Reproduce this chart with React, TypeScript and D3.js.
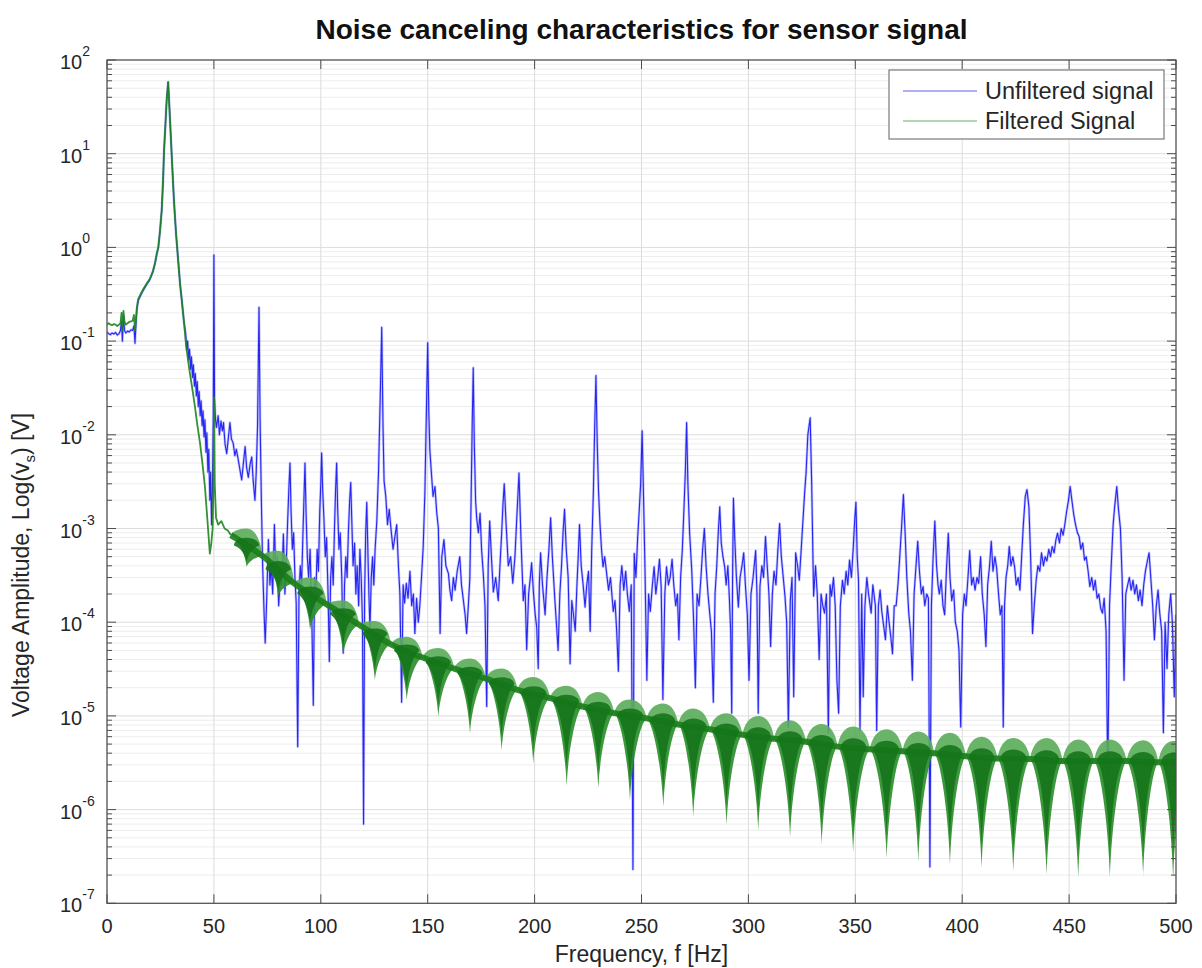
import React from "react";
import * as d3 from "d3";

const titleText = "Noise canceling characteristics for sensor signal";
const xLabelText = "Frequency, f [Hz]";
const legendLabels = ["Unfiltered signal", "Filtered Signal"];
const xTickValues = [0, 50, 100, 150, 200, 250, 300, 350, 400, 450, 500];
const yDecadeExponents = [-7, -6, -5, -4, -3, -2, -1, 0, 1, 2];

// Unfiltered signal: [frequency Hz, amplitude V]
const unfilteredSignal: [number, number][] = [
  [0, 1.25e-1], [0.8, 1.2e-1], [1.6, 1.17e-1], [2.4, 1.22e-1], [3.2, 1.19e-1], [4, 1.24e-1], [4.8, 1.16e-1], [5.6, 1.2e-1],
  [6.3, 1.3e-1], [6.8, 1.65e-1], [7.2, 1.0e-1], [7.7, 1.85e-1], [8.2, 1.3e-1], [8.8, 1.22e-1], [9.6, 1.28e-1], [10.4, 1.25e-1],
  [11.2, 1.32e-1], [12, 1.3e-1], [12.6, 1.45e-1], [13.1, 9.5e-2], [13.6, 1.6e-1], [14, 2.2e-1], [14.6, 2.7e-1],
  [15.5, 3.0e-1], [17, 3.5e-1], [18.5, 4.0e-1], [20, 4.5e-1], [21.5, 5.5e-1], [22.5, 6.8e-1], [23.3, 8.5e-1], [24, 1.0],
  [24.8, 1.5], [25.6, 2.5], [26.2, 5], [26.7, 11], [27.3, 20], [27.9, 37], [28.6, 58], [29.4, 25], [30.3, 9.3], [31.3, 3.2],
  [32.3, 1.4], [32.9, 9.4e-1], [34.2, 4.0e-1], [35, 2.7e-1], [36, 1.6e-1], [36.8, 1.2e-1],
  [37.3, 8e-2], [37.7, 1.0e-1], [38.2, 6.3e-2], [38.6, 8.2e-2], [39.1, 5e-2], [39.5, 6.8e-2], [40, 4.1e-2], [40.4, 5.6e-2],
  [40.9, 3.3e-2], [41.3, 4.5e-2], [41.8, 2.6e-2], [42.2, 3.7e-2], [42.7, 2.0e-2], [43.1, 2.9e-2], [43.6, 1.6e-2], [44, 2.3e-2],
  [44.5, 1.25e-2], [44.9, 1.8e-2], [45.4, 9.5e-3], [45.8, 1.45e-2], [46.3, 6.5e-3], [46.7, 1.05e-2], [47.2, 4e-3], [47.6, 7e-3],
  [48.1, 2e-3], [48.5, 4e-3], [48.9, 1.1e-3], [49.3, 2.5e-3], [49.7, 1.5e-2], [50, 8.3e-1], [50.3, 2.5e-2], [50.7, 1.5e-2],
  [51.2, 1.2e-2], [52, 1.6e-2], [52.6, 1.0e-2], [53.3, 1.4e-2], [54, 1.1e-2], [54.5, 1.35e-2], [55.2, 8e-3], [56, 6.3e-3],
  [56.7, 9e-3], [57.5, 1.35e-2], [58.2, 9e-3], [59, 8.2e-3], [59.8, 6e-3], [60.5, 7e-3], [61.4, 5.4e-3], [62.2, 4.2e-3],
  [63, 3.3e-3], [63.8, 5e-3], [64.6, 7.5e-3], [65.3, 4.5e-3], [66.1, 3.5e-3], [66.9, 4.8e-3], [67.7, 5.8e-3], [68.4, 3.2e-3],
  [69.2, 2e-3], [69.8, 4e-3], [70.4, 1.2e-2], [71.1, 2.3e-1], [71.6, 1.5e-2], [72.2, 2e-3], [72.8, 4e-4], [73.5, 1.2e-4],
  [74, 6e-5], [74.6, 1.5e-4],
  [75.5, 7.6e-4], [76.2, 2.5e-4], [76.8, 4e-4], [77.5, 2e-4], [78.3, 1.1e-3], [79, 3e-4], [79.6, 5e-4], [80.3, 1.5e-4],
  [81, 3e-4], [81.7, 2.5e-4], [82.5, 8.7e-4], [83.2, 2e-4], [83.8, 4e-4], [84.5, 1.2e-3], [85.1, 2.8e-3], [85.6, 5e-3],
  [86.1, 1.5e-3], [86.7, 6e-4], [87.3, 9e-4], [87.9, 3e-4], [88.5, 1.6e-4], [89.2, 4.7e-6], [89.8, 2e-4], [90.4, 4e-4],
  [91, 2.5e-4], [91.6, 8e-4], [92.1, 2e-3], [92.6, 5e-3], [93.1, 1.5e-3], [93.7, 5e-4], [94.3, 3e-4], [95, 6e-4],
  [95.7, 1.5e-4], [96.5, 1.3e-5], [97.1, 3e-4], [97.7, 2e-4], [98.3, 6e-4], [98.9, 3.5e-4], [99.5, 1.5e-3], [100, 3e-3],
  [100.4, 6.4e-3], [100.9, 2.5e-3], [101.5, 1.2e-3], [102.1, 5e-4], [102.7, 8e-4], [103.4, 2e-4], [104, 3.8e-5], [104.6, 3e-4],
  [105.2, 5e-4], [105.8, 2.5e-4], [106.4, 1e-3], [106.9, 2.5e-3], [107.4, 5e-3], [107.9, 1.6e-3], [108.5, 6e-4], [109.1, 9e-4],
  [109.8, 3e-4], [110.5, 4.7e-5], [111.1, 2.5e-4], [111.7, 5e-4], [112.3, 3e-4], [112.9, 9e-4], [113.5, 2e-3], [114, 3.1e-3],
  [114.5, 1.2e-3], [115.1, 4e-4], [115.8, 7e-4], [116.4, 2e-4], [117, 4e-4], [117.7, 1.5e-4], [118.3, 6e-4], [118.9, 3e-4],
  [119.5, 1e-4], [120, 7e-7], [120.5, 2e-4], [121, 9e-4], [121.5, 1.9e-3], [122, 6e-4], [122.5, 2e-4], [123, 8.3e-5],
  [123.6, 3e-4], [124.2, 5e-4], [124.8, 2.5e-4],
  [125.4, 6e-4], [126.2, 1.2e-3], [127, 4e-3], [127.8, 2.5e-2], [128.5, 1.4e-1], [129.1, 1.2e-2], [129.6, 3.2e-3], [130.4, 2.2e-3],
  [131.2, 1.1e-3], [132, 1.6e-3], [133, 9e-4], [133.8, 6e-4], [134.6, 8e-4], [135.5, 1.1e-3], [136.3, 4e-4], [137, 2e-4],
  [137.8, 1.4e-5], [138.5, 2.5e-4], [139.2, 1.6e-4], [140, 2.6e-4], [140.8, 1.8e-4], [141.7, 3.5e-4], [142.5, 1.5e-4], [143.3, 2e-4],
  [144, 7.6e-5], [144.8, 1.8e-4], [145.6, 1e-4], [146.3, 1.5e-4], [147.1, 3e-4], [147.9, 6.4e-4], [148.7, 2.5e-3], [149.4, 1.8e-2],
  [150, 9.6e-2], [150.5, 1.8e-2], [151, 6.9e-3], [151.7, 4e-3], [152.5, 2.2e-3], [153.4, 2.8e-3], [154.2, 1.5e-3], [155, 1.0e-3],
  [155.8, 7.6e-5], [156.6, 5e-4], [157.6, 7.6e-4], [158.5, 4e-4], [159.7, 3.3e-4], [160.4, 2.2e-4], [161.2, 1.7e-4], [162, 3e-4],
  [162.8, 2.2e-4], [163.8, 3.5e-4], [165, 5e-4], [165.8, 2.5e-4], [166.7, 1.7e-4], [167.5, 1.2e-4], [168.2, 7.6e-5], [169, 1.5e-4],
  [169.7, 2.9e-4], [170.3, 2e-3], [170.8, 1.2e-2], [171.3, 5.2e-2], [171.8, 8e-3], [172.4, 2e-3], [172.9, 1.3e-3], [173.7, 9e-4],
  [174.5, 1.45e-3], [175.2, 6e-4], [176, 3.3e-4], [176.8, 1.5e-4], [177.6, 1.26e-5], [178.3, 4e-4], [179, 1.2e-3], [179.8, 5e-4],
  [180.7, 2.1e-4], [181.8, 3e-4], [183, 1.7e-4], [183.8, 4e-4], [184.6, 9e-4], [185.2, 1.8e-3], [185.8, 3.0e-3], [186.6, 1.2e-3],
  [187.7, 4e-4], [188.8, 5e-4], [189.8, 2.6e-4], [190.8, 5e-4], [191.8, 1.5e-3], [192.7, 3.9e-3], [193.6, 8e-4], [194.7, 1.7e-4],
  [195.5, 2.5e-4], [196.3, 5.1e-5], [197.2, 2e-4], [198, 3e-4], [198.6, 4.3e-4], [199.5, 2e-4], [200.3, 1.2e-4], [201, 8.8e-5],
  [201.7, 3.2e-5], [202.2, 2.5e-4], [202.8, 5.5e-4], [203.7, 2.5e-4], [204.9, 1.2e-4], [205.8, 3e-4], [206.7, 6e-4], [207.5, 1.3e-3],
  [208.3, 5e-4], [209.5, 1.7e-4], [210.3, 9e-5], [211, 5e-5], [211.8, 2e-4], [212.6, 4e-4], [213.3, 9e-4], [214, 1.6e-3],
  [214.8, 6e-4], [215.7, 3e-4], [216.6, 3.6e-5], [217.4, 1.7e-4], [218.2, 1.2e-4], [219, 8e-5], [219.8, 2.5e-4], [220.4, 5e-4],
  [221, 1.1e-3], [221.8, 4e-4], [222.7, 2.5e-4], [223.6, 1.45e-4], [224.4, 2.5e-4], [225.2, 3.5e-4], [226, 8e-5], [226.7, 5.8e-4],
  [227.5, 2.5e-3], [228.1, 1.2e-2], [228.7, 4.3e-2], [229.3, 8e-3], [229.9, 2.5e-3], [230.6, 1.1e-3], [231.3, 6e-4], [232, 3.9e-4],
  [232.8, 5e-4], [233.7, 3.3e-4], [234.6, 2.2e-4], [235.5, 3e-4], [236.3, 1.8e-4], [236.8, 1.3e-4], [237.6, 1.7e-4], [238.4, 8e-5],
  [239.2, 3e-5], [240, 2.5e-4], [240.8, 4e-4], [241.7, 2.2e-4], [242.6, 3.5e-4], [243.4, 2e-4], [244.3, 1.3e-4], [245.2, 2.5e-4],
  [246, 2.3e-7], [246.6, 5.4e-4], [247.4, 3e-4], [248.2, 8e-4], [248.9, 1.5e-3], [249.6, 3e-3], [250.3, 1.1e-2], [250.9, 2.5e-3],
  [251.6, 4e-4], [252.5, 2.4e-5], [253.3, 2e-4], [254.1, 1.3e-4], [255.1, 2.5e-4], [255.9, 3.9e-4], [256.7, 2e-4], [257.6, 3e-4],
  [258.4, 4.7e-4], [259.2, 2.4e-4], [260, 1.5e-5], [260.9, 2e-4], [261.7, 3.9e-4], [262.6, 2.5e-4], [263.4, 3e-4], [264.3, 4.7e-4],
  [265.1, 2.5e-4], [266, 1.5e-4], [266.8, 2.0e-4], [267.5, 6.5e-5], [268.3, 3e-4], [269.1, 6e-4], [269.8, 1.5e-3], [270.5, 4e-3],
  [271.1, 1.35e-2], [271.7, 3e-3], [272.5, 9e-4], [273.5, 3.6e-4], [274.4, 1e-4], [275.2, 2.0e-5], [276, 2e-4], [276.9, 1.5e-4],
  [277.8, 3e-4], [278.6, 6e-4], [279.4, 1.0e-3], [280.2, 4e-4], [281.1, 2e-4], [281.9, 1.25e-4], [282.7, 8e-5], [283.6, 1.4e-5],
  [284.4, 2e-4], [285.2, 4e-4], [285.9, 9e-4], [286.6, 1.7e-3], [287.3, 7e-4], [288.1, 5e-4], [288.9, 3.9e-4], [289.6, 2.5e-4],
  [290.4, 4e-4], [291.1, 1.8e-4], [291.7, 8e-5], [292.2, 1.07e-5], [292.6, 3e-4], [293, 2.1e-3], [293.6, 8e-4], [294.4, 3e-4],
  [295.3, 1.45e-4], [296.1, 3e-4], [297, 4e-4], [297.8, 5.5e-4], [298.6, 2.5e-4], [299.5, 1.2e-4], [300.3, 2.4e-5], [301.2, 2e-4],
  [302.2, 3e-4], [303.4, 5.8e-4], [304, 2e-4], [304.6, 1.07e-5], [305.4, 2.4e-4], [306.3, 4e-4], [307.1, 3e-4], [308, 8.2e-4],
  [308.8, 4e-4], [309.6, 2e-4], [310.4, 5.5e-5], [311.2, 2e-4], [312, 3.5e-4], [312.9, 2.5e-4], [313.8, 6e-4], [314.6, 1.13e-3],
  [315.4, 5e-4], [316.3, 3e-4], [317.1, 1.9e-4], [317.9, 1e-4], [318.7, 7.6e-6], [319.6, 1.7e-4], [320.4, 3e-4], [321.2, 1.6e-5],
  [322.1, 5.5e-4], [323, 4e-4], [323.8, 2.8e-4], [324.7, 6e-4], [325.5, 1.2e-3], [326.3, 2.4e-3], [327, 4e-3], [327.8, 1e-2],
  [328.9, 1.52e-2], [329.6, 3e-3], [330.5, 1.9e-4], [331.4, 4e-4], [332.2, 2e-4], [333.1, 4e-5], [334, 2e-4], [334.8, 1.5e-4],
  [335.6, 1.25e-4], [336.5, 2e-4], [337.4, 6.6e-6], [338.2, 2.5e-4], [338.9, 1.9e-4], [339.8, 3e-4], [340.6, 1.5e-4], [341.4, 2.4e-5],
  [342.2, 1.07e-5], [343, 1.5e-4], [344, 2.8e-4], [344.8, 2e-4], [345.7, 3.5e-4], [346.5, 2.5e-4], [347.3, 4.6e-4], [348.2, 3e-4],
  [349, 6e-4], [349.7, 1.2e-3], [350.3, 1.9e-3], [350.9, 5e-4], [351.5, 2.8e-4], [352.2, 7e-6], [353, 2e-4], [353.7, 1.6e-5],
  [354.5, 1.5e-4], [355.4, 3e-4], [356.2, 2e-4], [357.4, 1.25e-4], [358.2, 2.5e-4], [359.4, 1.5e-4], [360, 7e-6], [360.8, 1.5e-4],
  [361.6, 2.2e-4], [362.4, 1.3e-4], [363.3, 9e-5], [364.1, 6.5e-5], [365, 1.5e-4], [365.8, 1e-4], [366.6, 7e-5], [367.4, 4.6e-5],
  [368.2, 1.5e-4], [369.1, 1.5e-4], [370, 2.6e-4], [370.8, 5e-4], [371.6, 1e-3], [372.5, 2.3e-3], [373.3, 8.9e-4], [374.1, 3e-4],
  [375, 1.25e-4], [375.8, 8e-5], [376.7, 2.4e-5], [377.5, 2e-4], [378.4, 4e-4], [379.2, 7.3e-4], [380, 3.5e-4], [380.9, 2e-4],
  [381.7, 2.4e-4], [382.5, 1.5e-4], [383.4, 2e-4], [384.2, 1.8e-4], [384.9, 2.45e-7], [385.6, 1.5e-4], [386.4, 5e-4], [387.2, 1.2e-3],
  [388, 4e-4], [388.7, 2.5e-4], [389.3, 2e-4], [390.2, 2.8e-4], [391, 1.5e-4], [391.8, 1.2e-4], [392.6, 3.5e-4], [393.5, 8.9e-4],
  [394.3, 3e-4], [395.1, 1.7e-4], [396, 2.2e-4], [396.8, 1e-4], [397.7, 8e-5], [398.5, 5e-5], [399.3, 7.6e-6], [400.2, 1.2e-4],
  [401, 2e-4], [401.8, 1.5e-4], [402.7, 3e-4], [403.5, 5.8e-4], [404.4, 2.5e-4], [405.2, 3e-4], [406, 2.2e-4], [406.9, 3e-4],
  [407.7, 2.6e-4], [408.6, 5e-4], [409.4, 2e-4], [410.3, 1.2e-4], [411.1, 5.5e-5], [411.9, 2.5e-4], [412.8, 4e-4], [413.6, 7.3e-4],
  [414.4, 3.5e-4], [415.3, 5e-4], [416.1, 3.8e-4], [417, 2e-4], [417.8, 1.2e-4], [418.6, 1.5e-4], [419.2, 7.6e-6], [419.8, 1.5e-4],
  [420.5, 3e-4], [421.3, 4e-4], [422, 6.4e-4], [422.8, 4e-4], [423.7, 5e-4], [424.5, 3.9e-4], [425.3, 2.5e-4], [426.2, 3e-4],
  [427, 2.2e-4], [427.8, 5e-4], [428.6, 1.1e-3], [429.5, 2.2e-3], [430.3, 2.6e-3], [431.2, 1.7e-3], [432, 5e-4], [432.9, 7.6e-5],
  [433.7, 1.5e-4], [434.6, 2.8e-4], [435.4, 4e-4], [436.3, 3.5e-4], [437.1, 5.5e-4], [438, 4e-4], [438.8, 5e-4], [439.6, 4.5e-4],
  [440.5, 6e-4], [441.3, 5e-4], [442.1, 6.4e-4], [443, 5.5e-4], [443.8, 7.5e-4], [444.6, 8.9e-4], [445.5, 7e-4], [446.3, 1e-3],
  [447.2, 8.5e-4], [448, 1.1e-3], [448.8, 1.5e-3], [449.7, 2e-3], [450.5, 2.8e-3], [451.3, 2e-3], [452.2, 1.4e-3], [453, 1.1e-3],
  [453.9, 9e-4], [454.7, 8.2e-4], [455.5, 6e-4], [456.4, 7e-4], [457.2, 4.6e-4], [458, 5e-4], [458.9, 3.5e-4], [459.7, 2.4e-4],
  [460.6, 3e-4], [461.4, 2.2e-4], [462.2, 2.8e-4], [463.1, 1.8e-4], [463.9, 2e-4], [464.8, 1.4e-4], [465.6, 1.25e-4], [466.4, 1.8e-4],
  [467.3, 8e-5], [468.1, 2.1e-6], [468.9, 1.5e-4], [469.7, 4e-4], [470.6, 1.1e-3], [471.4, 1.8e-3], [472.3, 2.8e-3], [473.1, 1.6e-3],
  [474, 1e-3], [474.8, 3e-4], [475.7, 2.4e-5], [476.5, 2e-4], [477.4, 2.5e-4], [478.2, 3e-4], [479, 2.2e-4], [479.9, 2.8e-4],
  [480.7, 2e-4], [481.5, 2.5e-4], [482.4, 1.7e-4], [483.2, 2.2e-4], [484.1, 1.5e-4], [484.9, 2.5e-4], [485.7, 3.5e-4], [486.6, 4.5e-4],
  [487.4, 5.5e-4], [488.2, 3e-4], [489.1, 1.5e-4], [489.9, 6.5e-5], [490.8, 1.5e-4], [491.6, 2.2e-4], [492.4, 1.25e-4], [493.3, 8e-5],
  [494.1, 6.6e-6], [494.9, 1e-4], [495.8, 3.2e-5], [496.6, 1.2e-4], [497.5, 2e-4], [498.3, 1e-4], [499.2, 1.6e-5], [500, 1.2e-4],
];

// Filtered signal, low band before the lobe pattern starts: [frequency Hz, amplitude V]
const filteredLowBand: [number, number][] = [
  [0, 1.5e-1], [0.8, 1.55e-1], [1.6, 1.5e-1], [2.4, 1.48e-1], [3.2, 1.52e-1], [4, 1.5e-1], [4.8, 1.45e-1], [5.6, 1.5e-1],
  [6.3, 1.55e-1], [6.8, 2.0e-1], [7.2, 1.3e-1], [7.7, 2.1e-1], [8.2, 1.6e-1], [8.8, 1.5e-1], [9.6, 1.55e-1], [10.4, 1.6e-1],
  [11.2, 1.62e-1], [12, 1.65e-1], [12.6, 1.9e-1], [13.1, 1.3e-1], [13.6, 1.8e-1], [14, 2.3e-1], [14.6, 2.8e-1],
  [15.5, 3.1e-1], [17, 3.6e-1], [18.5, 4.1e-1], [20, 4.6e-1], [21.5, 5.6e-1], [22.5, 6.9e-1], [23.3, 8.6e-1], [24, 1.0],
  [24.8, 1.5], [25.6, 2.5], [26.2, 5], [26.7, 11], [27.3, 20], [27.9, 37], [28.6, 58], [29.4, 25], [30.3, 9.3], [31.3, 3.2],
  [32.3, 1.4], [32.9, 9.4e-1], [34.2, 4.0e-1], [35, 2.7e-1], [36, 1.6e-1], [37, 9e-2], [38, 6e-2], [38.8, 4.5e-2],
  [40, 3.0e-2], [41, 2.1e-2], [42.2, 1.3e-2], [43.5, 8.2e-3], [44.7, 4.8e-3], [45.8, 2.8e-3], [46.6, 1.6e-3], [47.4, 9e-4],
  [48.1, 5.4e-4], [48.8, 7e-4], [49.4, 1.0e-3], [49.8, 3e-3], [50.1, 2.5e-2], [50.4, 3e-3], [51, 1.3e-3], [52, 1.1e-3],
  [53.5, 1.2e-3], [55, 1.0e-3], [56.5, 9.5e-4], [57.9, 8.5e-4],
];

// Filtered signal lobe pattern (one lobe between successive nodes)
const filteredNodeFreqs = [
  57.9, 72.7, 87.5, 102.8, 117.9, 132.8, 147.6, 162.4, 177.2, 192, 207.2, 222.4, 237.2, 252.4, 267.2, 282,
  297.2, 312, 326.9, 341.7, 356.8, 372.1, 386.9, 401.7, 416.5, 431.7, 446.9, 461.7, 476.9, 491.7, 505.7,
];
const filteredNodeValues = [
  8.5e-4, 5.1e-4, 2.6e-4, 1.55e-4, 9.4e-5, 5.8e-5, 4.2e-5, 3.2e-5, 2.5e-5, 1.9e-5, 1.55e-5, 1.26e-5, 1.07e-5, 9.4e-6, 8.1e-6, 7.2e-6,
  6.3e-6, 5.7e-6, 5.3e-6, 4.7e-6, 4.4e-6, 4.2e-6, 4.0e-6, 3.7e-6, 3.5e-6, 3.47e-6, 3.3e-6, 3.3e-6, 3.3e-6, 3.2e-6, 3.2e-6,
];
const filteredLobeCenters = [
  65.3, 80.1, 95, 110.5, 125.3, 140.2, 155, 169.8, 184.6, 199.4, 215, 229.8, 244.6, 260.2, 274.2,
  289.8, 304.6, 319.5, 334.3, 349, 364.7, 379.5, 394.3, 409.1, 423.9, 439.5, 454.3, 469.1, 484.7, 498.7,
];
const filteredLobeTops = [
  1.0e-3, 5.8e-4, 3.0e-4, 1.7e-4, 1.03e-4, 7.0e-5, 5.3e-5, 4.1e-5, 3.2e-5, 2.6e-5, 2.1e-5, 1.8e-5, 1.5e-5, 1.36e-5, 1.2e-5,
  1.07e-5, 1.0e-5, 9.0e-6, 8.2e-6, 7.7e-6, 7.2e-6, 6.8e-6, 6.6e-6, 6.0e-6, 5.8e-6, 5.8e-6, 5.6e-6, 5.6e-6, 5.5e-6, 5.4e-6,
];
const filteredLobeTips = [
  3.9e-4, 1.9e-4, 8.3e-5, 4.5e-5, 2.4e-5, 1.48e-5, 9.8e-6, 6.5e-6, 4.3e-6, 3.1e-6, 1.8e-6, 1.7e-6, 1.26e-6, 1.07e-6, 8.4e-7,
  6.8e-7, 6.0e-7, 5.1e-7, 4.2e-7, 3.5e-7, 3.0e-7, 2.8e-7, 2.6e-7, 2.4e-7, 2.2e-7, 2.0e-7, 1.9e-7, 1.9e-7, 1.9e-7, 1.9e-7,
];

const FONT = "'Liberation Sans', Arial, Helvetica, sans-serif";

export default function App() {
  const W = 1202;
  const H = 968;
  const L = 107;
  const R = 1176;
  const T = 60;
  const B = 903.3;
  const x = d3.scaleLinear().domain([0, 500]).range([L, R]);
  const y = d3.scaleLog().domain([1e-7, 1e2]).range([B, T]);
  const line = d3
    .line<[number, number]>()
    .x((d) => x(d[0]))
    .y((d) => y(d[1]));

  const minorVals: number[] = [];
  yDecadeExponents.forEach((e) => {
    if (e < 2) for (let m = 2; m <= 9; m++) minorVals.push(m * Math.pow(10, e));
  });

  const nodeLine = d3
    .line<number>()
    .x((f) => x(f))
    .y((_, i) => y(filteredNodeValues[i]))
    .curve(d3.curveMonotoneX);

  const lobes = filteredLobeCenters.map((c, i) => {
    const xL = x(filteredNodeFreqs[i]);
    const xR = x(filteredNodeFreqs[i + 1]);
    const xc = x(c);
    const yL = y(filteredNodeValues[i]);
    const yR = y(filteredNodeValues[i + 1]);
    const yT = y(filteredLobeTops[i]);
    const yP = y(filteredLobeTips[i]);
    const k = 0.552;
    const upper =
      `M${xL},${yL} C${xL + 0.1 * (xc - xL)},${yL - k * (yL - yT)} ${xc - k * (xc - xL)},${yT} ${xc},${yT} ` +
      `C${xc + k * (xR - xc)},${yT} ${xR - 0.1 * (xR - xc)},${yR - k * (yR - yT)} ${xR},${yR}`;
    const lower =
      `M${xR},${yR} C${xc + 0.6 * (xR - xc)},${yR + 0.05 * (yP - yR)} ${xc + 0.1 * (xR - xc)},${yP - 0.45 * (yP - yR)} ${xc},${yP} ` +
      `C${xc - 0.1 * (xc - xL)},${yP - 0.45 * (yP - yL)} ${xc - 0.6 * (xc - xL)},${yL + 0.05 * (yP - yL)} ${xL},${yL} Z`;
    const yN = (yL + yR) / 2;
    const cT = yT + 0.55 * (yN - yT);
    const cP = yN + 0.8 * (yP - yN);
    const cxL = xc - 0.8 * (xc - xL);
    const cxR = xc + 0.8 * (xR - xc);
    const core =
      `M${cxL},${yN} C${cxL},${yN - k * (yN - cT)} ${xc - k * (xc - cxL)},${cT} ${xc},${cT} ` +
      `C${xc + k * (cxR - xc)},${cT} ${cxR},${yN - k * (yN - cT)} ${cxR},${yN} ` +
      `C${xc + 0.5 * (cxR - xc)},${yN + 0.1 * (cP - yN)} ${xc + 0.08 * (cxR - xc)},${cP - 0.45 * (cP - yN)} ${xc},${cP} ` +
      `C${xc - 0.08 * (xc - cxL)},${cP - 0.45 * (cP - yN)} ${xc - 0.5 * (xc - cxL)},${yN + 0.1 * (cP - yN)} ${cxL},${yN} Z`;
    return { upper: upper + " Z", lower, core, key: i };
  });

  const axisColor = "#4d4d4d";
  const textColor = "#262626";
  const blueD = line(unfilteredSignal) || "";

  return (
    <svg
      width={W}
      height={H}
      style={{ position: "absolute", left: 0, top: 0, background: "#fff" }}
      fontFamily={FONT}
    >
      <defs>
        <clipPath id="plotClip">
          <rect x={L} y={T} width={R - L} height={B - T} />
        </clipPath>
      </defs>
      <rect x={0} y={0} width={W} height={H} fill="#fff" />

      {/* grid */}
      <g>
        {minorVals.map((v, i) => (
          <line key={"mg" + i} x1={L} x2={R} y1={y(v)} y2={y(v)} stroke="#ededed" strokeWidth={1} />
        ))}
        {yDecadeExponents.map((e) => (
          <line key={"Mg" + e} x1={L} x2={R} y1={y(Math.pow(10, e))} y2={y(Math.pow(10, e))} stroke="#dcdcdc" strokeWidth={1} />
        ))}
        {xTickValues.map((t) => (
          <line key={"xg" + t} x1={x(t)} x2={x(t)} y1={T} y2={B} stroke="#dcdcdc" strokeWidth={1} />
        ))}
      </g>

      {/* data */}
      <g clipPath="url(#plotClip)">
        <path d={blueD} fill="none" stroke="#5a5aff" strokeWidth={2.6} strokeOpacity={0.35} strokeLinejoin="round" />
        <path d={blueD} fill="none" stroke="#0a0aee" strokeWidth={1.1} strokeOpacity={0.85} strokeLinejoin="round" />
        <path d={line(filteredLowBand) || ""} fill="none" stroke="#1f851f" strokeWidth={1.8} strokeOpacity={0.9} strokeLinejoin="round" />
        {lobes.map((lb) => (
          <g key={lb.key}>
            <path d={lb.upper} fill="#5aac5a" fillOpacity={0.9} />
            <path d={lb.lower} fill="#2c8f2c" fillOpacity={0.92} />
          </g>
        ))}
        <path d={nodeLine(filteredNodeFreqs) || ""} fill="none" stroke="#1a7d1a" strokeWidth={6} strokeOpacity={0.9} />
        {lobes.map((lb) => (
          <path key={"c" + lb.key} d={lb.core} fill="#15741a" fillOpacity={0.9} />
        ))}
      </g>

      {/* axes box */}
      <rect x={L} y={T} width={R - L} height={B - T} fill="none" stroke={axisColor} strokeWidth={1.2} />

      {/* x ticks */}
      {xTickValues.map((t) => (
        <g key={"xt" + t}>
          <line x1={x(t)} x2={x(t)} y1={B} y2={B - 9} stroke={axisColor} strokeWidth={1} />
          <line x1={x(t)} x2={x(t)} y1={T} y2={T + 9} stroke={axisColor} strokeWidth={1} />
          <text x={x(t)} y={933} textAnchor="middle" fontSize={20} fill={textColor}>
            {t}
          </text>
        </g>
      ))}

      {/* y ticks */}
      {yDecadeExponents.map((e) => {
        const yy = y(Math.pow(10, e));
        return (
          <g key={"yt" + e}>
            <line x1={L} x2={L + 9} y1={yy} y2={yy} stroke={axisColor} strokeWidth={1} />
            <line x1={R} x2={R - 9} y1={yy} y2={yy} stroke={axisColor} strokeWidth={1} />
            <text x={60} y={yy + 9} fontSize={20} fill={textColor}>
              10
              <tspan dy={-13} fontSize={14}>
                {e < 0 ? "-" + Math.abs(e) : String(e)}
              </tspan>
            </text>
          </g>
        );
      })}
      {minorVals.map((v, i) => (
        <g key={"ymt" + i}>
          <line x1={L} x2={L + 5} y1={y(v)} y2={y(v)} stroke={axisColor} strokeWidth={1} />
          <line x1={R} x2={R - 5} y1={y(v)} y2={y(v)} stroke={axisColor} strokeWidth={1} />
        </g>
      ))}

      {/* title & labels */}
      <text x={(L + R) / 2} y={39} textAnchor="middle" fontSize={28} fontWeight="bold" fill="#111">
        {titleText}
      </text>
      <text x={(L + R) / 2} y={962} textAnchor="middle" fontSize={23} fill={textColor}>
        {xLabelText}
      </text>
      <text transform="translate(29, 565) rotate(-90)" textAnchor="middle" fontSize={23} fill={textColor}>
        Voltage Amplitude, Log(v
        <tspan dy={6} fontSize={15}>
          s
        </tspan>
        <tspan dy={-6}>) [V]</tspan>
      </text>

      {/* legend */}
      <g>
        <rect x={889} y={70} width={275} height={69} fill="#fff" stroke="#7a7a7a" strokeWidth={1.2} />
        <line x1={903} x2={977} y1={91} y2={91} stroke="#1010f0" strokeOpacity={0.45} strokeWidth={1.5} />
        <line x1={903} x2={977} y1={121} y2={121} stroke="#1f851f" strokeOpacity={0.45} strokeWidth={1.5} />
        <text x={985} y={99} fontSize={23.5} fill={textColor}>
          {legendLabels[0]}
        </text>
        <text x={985} y={129} fontSize={23.5} fill={textColor}>
          {legendLabels[1]}
        </text>
      </g>
    </svg>
  );
}
